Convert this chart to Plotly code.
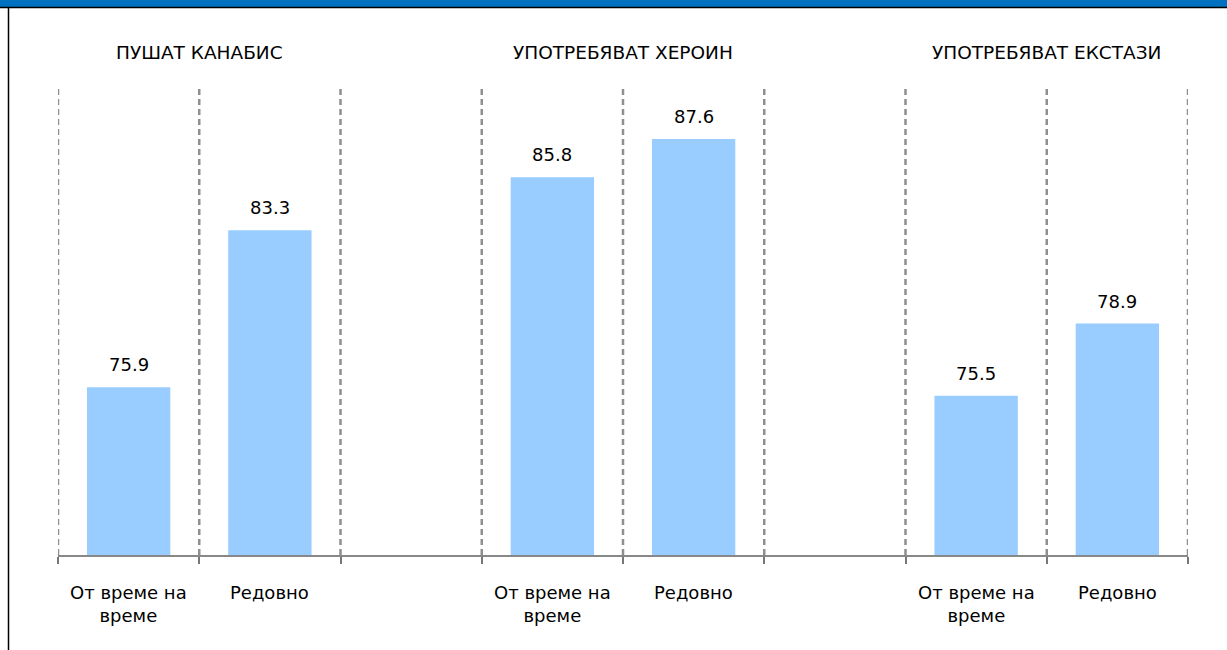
import plotly.graph_objects as go

# ---- data ----
groups = ["ПУШАТ КАНАБИС", "УПОТРЕБЯВАТ ХЕРОИН", "УПОТРЕБЯВАТ ЕКСТАЗИ"]
categories = ["От време на<br>време", "Редовно"]
values_occasional = [75.9, 85.8, 75.5]
values_regular = [83.3, 87.6, 78.9]
y_range = [68, 90]

# ---- layout constants ----
W, H = 1227, 650
ML, MR, MT, MB = 58, 39, 88, 95
PW, PH = W - ML - MR, H - MT - MB
FONT = "DejaVu Sans"
BAR_COLOR = "#99CCFF"

def py(p):  # page pixel y -> paper y
    return (H - MB - p) / PH

def px(p):  # page pixel x -> paper x
    return (p - ML) / PW

slots_per_group = 3  # 2 categories + 1 spacer
n_slots = slots_per_group * len(groups) - 1

xs, ys, texts = [], [], []
for g in range(len(groups)):
    for c, vals in enumerate([values_occasional, values_regular]):
        xs.append(g * slots_per_group + c + 0.5)
        ys.append(vals[g])
        texts.append(f"{vals[g]:.1f}")

fig = go.Figure()
fig.add_trace(go.Bar(
    x=xs, y=ys, width=0.59, marker=dict(color=BAR_COLOR, line=dict(width=0)),
    hoverinfo="skip",
))

boundaries = list(range(0, n_slots + 1))
shapes = []
for b in boundaries:
    shapes.append(dict(type="line", xref="x", yref="paper", x0=b, x1=b, y0=0, y1=1,
                       line=dict(color="#8f8f8f", width=2.5, dash="6px,4px"), layer="below"))
# header bar
shapes.append(dict(type="rect", xref="paper", yref="paper", x0=px(0), x1=px(W),
                   y0=py(7), y1=py(0), fillcolor="#0070C0", line=dict(width=0)))
shapes.append(dict(type="line", xref="paper", yref="paper", x0=px(0), x1=px(W),
                   y0=py(7.5), y1=py(7.5), line=dict(color="#000000", width=1.5)))
shapes.append(dict(type="line", xref="paper", yref="paper", x0=px(8.5), x1=px(8.5),
                   y0=py(7), y1=py(H), line=dict(color="#000000", width=1.5)))

annotations = []
for x, y, t in zip(xs, ys, texts):
    annotations.append(dict(x=x, y=y, xref="x", yref="y", text=t, showarrow=False,
                            yanchor="bottom", yshift=10,
                            font=dict(family=FONT, size=18, color="#000000")))
for g, name in enumerate(groups):
    annotations.append(dict(x=g * slots_per_group + 1, y=py(52), xref="x", yref="paper",
                            text=name, showarrow=False, yanchor="middle",
                            font=dict(family=FONT, size=18.5, color="#000000")))
    for c, cat in enumerate(categories):
        annotations.append(dict(x=g * slots_per_group + c + 0.5, y=py(580), xref="x", yref="paper",
                                text=cat, showarrow=False, yanchor="top", align="center",
                                font=dict(family=FONT, size=18, color="#000000")))

fig.update_layout(
    width=W, height=H,
    margin=dict(l=ML, r=MR, t=MT, b=MB, pad=0),
    paper_bgcolor="white", plot_bgcolor="white",
    showlegend=False,
    shapes=shapes, annotations=annotations,
    xaxis=dict(range=[0, n_slots], tickmode="array", tickvals=boundaries,
               ticktext=[""] * len(boundaries), ticks="outside", ticklen=7,
               tickcolor="#777777", tickwidth=1.5, showgrid=False, zeroline=False,
               showline=True, linecolor="#888888", linewidth=2, fixedrange=True),
    yaxis=dict(range=y_range, visible=False, showgrid=False, zeroline=False, fixedrange=True),
)

fig.write_html("out.html", config={"displayModeBar": False},
               post_script="document.body.style.margin='0';document.body.style.overflow='hidden';")
